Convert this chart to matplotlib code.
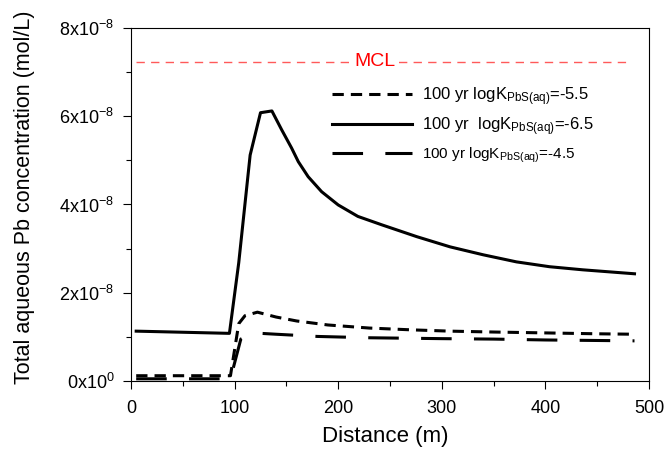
import matplotlib
matplotlib.use("Agg")
import matplotlib.pyplot as plt
from matplotlib.ticker import FixedLocator, FixedFormatter, MultipleLocator

plt.rcParams['font.family'] = ['Liberation Sans', 'DejaVu Sans']
plt.rcParams['mathtext.fontset'] = 'custom'
plt.rcParams['mathtext.rm'] = 'Liberation Sans'
plt.rcParams['mathtext.it'] = 'Liberation Sans:italic'
plt.rcParams['mathtext.default'] = 'regular'

# distance (m) / concentration (mol/L)
dist_65 = [5, 95, 104, 115, 125, 136, 145.5, 155, 161.5, 171, 184, 200, 219, 242,
           276, 308, 340, 372, 404, 436, 486]
conc_65 = [1.13e-8, 1.08e-8, 2.68e-8, 5.12e-8, 6.08e-8, 6.12e-8, 5.69e-8, 5.28e-8, 4.97e-8,
           4.63e-8, 4.29e-8, 3.99e-8, 3.73e-8, 3.54e-8, 3.27e-8, 3.04e-8, 2.86e-8, 2.70e-8,
           2.59e-8, 2.52e-8, 2.43e-8]

dist_55 = [5, 96, 104, 110, 122, 140, 160, 190, 230, 270, 308, 350, 400, 450, 486]
conc_55 = [0.12e-8, 0.12e-8, 1.30e-8, 1.48e-8, 1.56e-8, 1.45e-8, 1.36e-8, 1.27e-8, 1.20e-8,
           1.16e-8, 1.13e-8, 1.11e-8, 1.09e-8, 1.07e-8, 1.06e-8]

dist_45 = [5, 96, 106, 118, 140, 180, 230, 300, 350, 400, 486]
conc_45 = [0.05e-8, 0.05e-8, 0.95e-8, 1.09e-8, 1.06e-8, 1.01e-8, 0.98e-8, 0.96e-8, 0.95e-8, 0.93e-8, 0.91e-8]

mcl = 7.24e-8
mcl_x = [5, 482]

yticks = [0, 2e-8, 4e-8, 6e-8, 8e-8]
ylabels = ['0x10$^{0}$', '2x10$^{-8}$', '4x10$^{-8}$', '6x10$^{-8}$', '8x10$^{-8}$']
xticks = [0, 100, 200, 300, 400, 500]

fig = plt.figure(figsize=(6.64, 4.58), dpi=100)
ax = fig.add_axes([0.1973, 0.1681, 0.7801, 0.7708])

ax.plot(mcl_x, [mcl, mcl], color='#ff5a5a', lw=1.0, dashes=(6, 4.5))
ax.text(235.5, mcl, 'MCL', color='red', fontsize=14, ha='center', va='center',
        bbox=dict(facecolor='white', edgecolor='none', pad=0.5))

l55, = ax.plot(dist_55, conc_55, color='black', lw=2.2, dashes=(3.7, 2.3))
l65, = ax.plot(dist_65, conc_65, color='black', lw=2.2)
l45, = ax.plot(dist_45, conc_45, color='black', lw=2.2, dashes=(10, 7.3))

leg = ax.legend([l55, l65, l45],
                ['100 yr logK$_{PbS(aq)}$=-5.5',
                 '100 yr  logK$_{PbS(aq)}$=-6.5',
                 '100 yr logK$_{PbS(aq)}$=-4.5'],
                loc='center left', bbox_to_anchor=(0.388, 0.725), frameon=False,
                fontsize=12, handlelength=4.8, handletextpad=0.6, labelspacing=0.45,
                borderpad=0, borderaxespad=0)
leg.get_texts()[2].set_fontsize(11)

ax.set_xlim(0, 500)
ax.set_ylim(0, 8e-8)
ax.xaxis.set_major_locator(FixedLocator(xticks))
ax.xaxis.set_minor_locator(MultipleLocator(50))
ax.yaxis.set_major_locator(FixedLocator(yticks))
ax.yaxis.set_major_formatter(FixedFormatter(ylabels))
ax.yaxis.set_minor_locator(MultipleLocator(1e-8))

ax.tick_params(which='both', direction='out', top=False, right=False, labelsize=13)
ax.tick_params(axis='y', which='major', length=6, width=0.8, pad=6)
ax.tick_params(axis='x', which='major', length=6, width=0.8, pad=8)
ax.tick_params(which='minor', length=3.5, width=0.8)
for s in ax.spines.values():
    s.set_linewidth(0.8)

ax.set_xlabel('Distance (m)', fontsize=16)
ax.set_ylabel('Total aqueous Pb concentration (mol/L)', fontsize=15.5)
ax.xaxis.set_label_coords(0.491, -0.128)
ax.yaxis.set_label_coords(-0.185, 0.52)

fig.savefig('out.png', dpi=100)
